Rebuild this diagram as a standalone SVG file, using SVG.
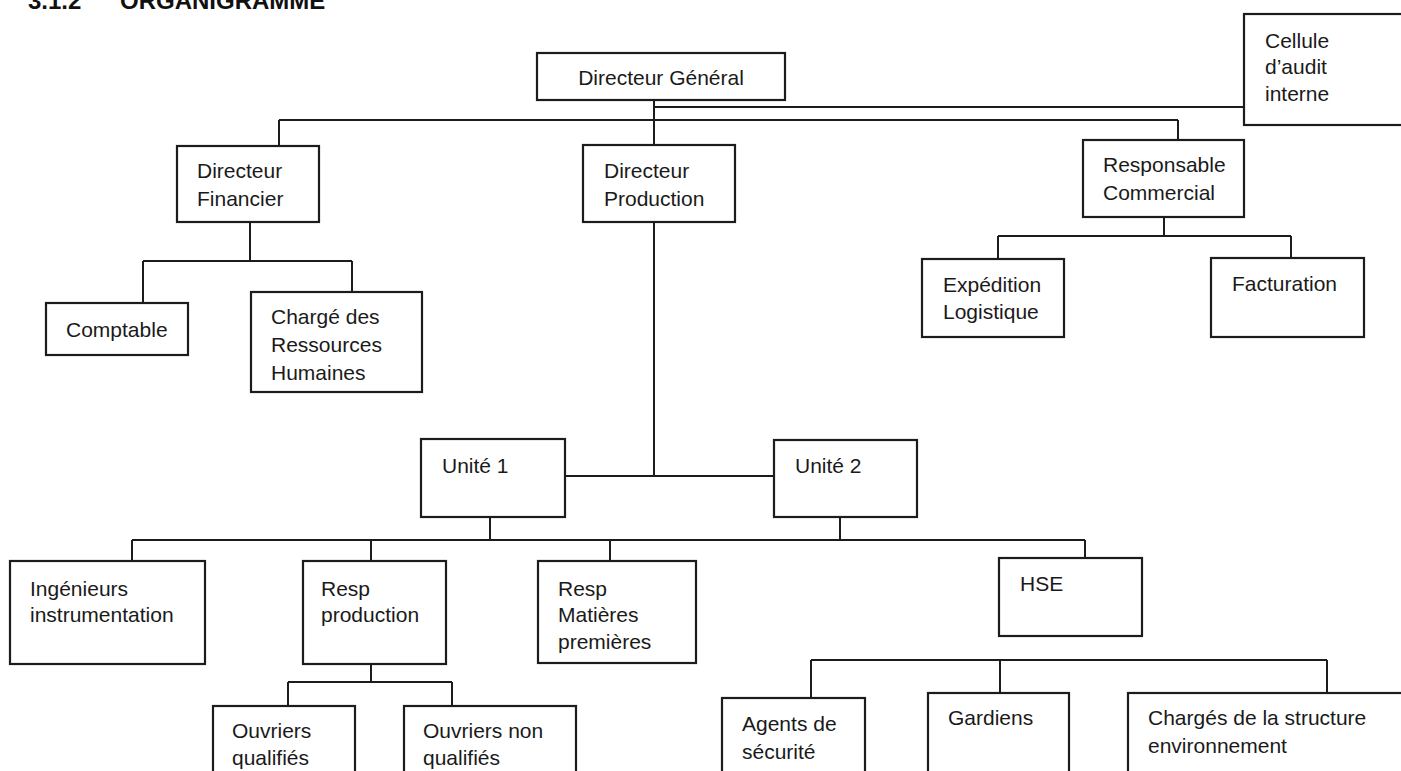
<svg xmlns="http://www.w3.org/2000/svg" width="1401" height="771" viewBox="0 0 1401 771">
<style>
.box{fill:#fff;stroke:#1c1c1c;stroke-width:2.2}
.t{font-family:"Liberation Sans",Arial,sans-serif;font-size:21px;fill:#1a1a1a}
.c{fill:none;stroke:#1c1c1c;stroke-width:2}
.title{font-family:"Liberation Sans",Arial,sans-serif;font-size:24px;font-weight:bold;fill:#111}
</style>
<rect width="1401" height="771" fill="#fff"/>
<g id="title"><text class="title" x="28" y="9">3.1.2</text><text class="title" x="120" y="9">ORGANIGRAMME</text></g>
<g id="connectors">
<path class="c" d="M654 100V476M655 107H1244M279 120H1178M279 120V146M1178 120V140"/>
<path class="c" d="M250 222V261M143 261H352M143 261V303M352 261V292"/>
<path class="c" d="M1164 217V236M998 236H1291M998 236V259M1291 236V258"/>
<path class="c" d="M565 476H774M490 517V540M840 517V540M132 540H1085M132 540V561M371 540V561M610 540V561M1085 540V558"/>
<path class="c" d="M371 664V682M288 682H452M288 682V706M452 682V706"/>
<path class="c" d="M811 660H1327M811 660V698M1000 660V693M1327 660V693"/>
</g>
<g id="dg"><rect class="box" x="537" y="53" width="248" height="47"/><text class="t" x="661" y="85" text-anchor="middle">Directeur Général</text></g>
<g id="audit"><rect class="box" x="1244" y="14" width="170" height="111"/><text class="t" x="1265" y="48">Cellule</text><text class="t" x="1265" y="74">d’audit</text><text class="t" x="1265" y="101">interne</text></g>
<g id="df"><rect class="box" x="177" y="146" width="142" height="76"/><text class="t" x="197" y="178">Directeur</text><text class="t" x="197" y="206">Financier</text></g>
<g id="dp"><rect class="box" x="583" y="145" width="152" height="77"/><text class="t" x="604" y="178">Directeur</text><text class="t" x="604" y="206">Production</text></g>
<g id="rc"><rect class="box" x="1083" y="140" width="161" height="77"/><text class="t" x="1103" y="172">Responsable</text><text class="t" x="1103" y="200">Commercial</text></g>
<g id="comptable"><rect class="box" x="46" y="303" width="142" height="52"/><text class="t" x="66" y="337">Comptable</text></g>
<g id="rh"><rect class="box" x="251" y="292" width="171" height="100"/><text class="t" x="271" y="324">Chargé des</text><text class="t" x="271" y="352">Ressources</text><text class="t" x="271" y="380">Humaines</text></g>
<g id="expedition"><rect class="box" x="922" y="259" width="142" height="78"/><text class="t" x="943" y="292">Expédition</text><text class="t" x="943" y="319">Logistique</text></g>
<g id="facturation"><rect class="box" x="1211" y="258" width="153" height="79"/><text class="t" x="1232" y="291">Facturation</text></g>
<g id="unite1"><rect class="box" x="421" y="439" width="144" height="78"/><text class="t" x="442" y="473">Unité 1</text></g>
<g id="unite2"><rect class="box" x="774" y="440" width="143" height="77"/><text class="t" x="795" y="473">Unité 2</text></g>
<g id="ingenieurs"><rect class="box" x="10" y="561" width="195" height="103"/><text class="t" x="30" y="596">Ingénieurs</text><text class="t" x="30" y="622">instrumentation</text></g>
<g id="respprod"><rect class="box" x="303" y="561" width="143" height="103"/><text class="t" x="321" y="596">Resp</text><text class="t" x="321" y="622">production</text></g>
<g id="respmat"><rect class="box" x="538" y="561" width="158" height="102"/><text class="t" x="558" y="596">Resp</text><text class="t" x="558" y="622">Matières</text><text class="t" x="558" y="649">premières</text></g>
<g id="hse"><rect class="box" x="999" y="558" width="143" height="78"/><text class="t" x="1020" y="591">HSE</text></g>
<g id="ouvq"><rect class="box" x="213" y="706" width="142" height="90"/><text class="t" x="232" y="738">Ouvriers</text><text class="t" x="232" y="765">qualifiés</text></g>
<g id="ouvnq"><rect class="box" x="404" y="706" width="172" height="90"/><text class="t" x="423" y="738">Ouvriers non</text><text class="t" x="423" y="765">qualifiés</text></g>
<g id="agents"><rect class="box" x="722" y="698" width="143" height="95"/><text class="t" x="742" y="731">Agents de</text><text class="t" x="742" y="759">sécurité</text></g>
<g id="gardiens"><rect class="box" x="928" y="693" width="141" height="100"/><text class="t" x="948" y="725">Gardiens</text></g>
<g id="charges"><rect class="box" x="1128" y="693" width="285" height="100"/><text class="t" x="1148" y="725">Chargés de la structure</text><text class="t" x="1148" y="753">environnement</text></g>
</svg>
